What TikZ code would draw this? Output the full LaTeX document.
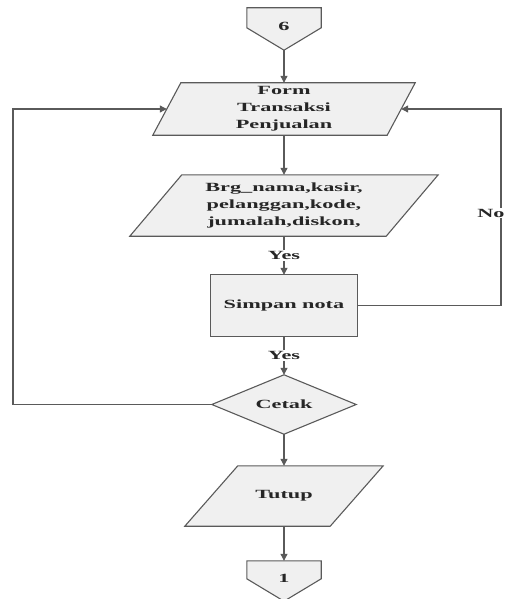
\documentclass[tikz,border=0pt]{standalone}
\usepackage{fontspec}
\setmainfont[FakeStretch=1.78]{Liberation Serif}
\usetikzlibrary{arrows.meta,backgrounds,calc}
\definecolor{ln}{HTML}{5A5A5A}
\definecolor{bx}{HTML}{F0F0F0}
\tikzset{
  conn/.style={draw=ln, line width=1.1pt},
  arr/.style={conn, -{Triangle[length=7pt,width=7pt]}},
  txt/.style={font=\fontsize{12.5}{17}\selectfont\bfseries, text=black!85, align=center, inner sep=0pt},
  shp/.style={draw=ln, line width=1.1pt, fill=bx},
  lbl/.style={font=\fontsize{12.5}{17}\selectfont\bfseries, text=black!85, fill=white, inner sep=1pt},
}
\begin{document}
\begin{tikzpicture}[x=1pt,y=-1pt]
\useasboundingbox (0,0) rectangle (507,599);
% nodes
\node[txt, minimum width=74, minimum height=42] (c6) at (284,29) {\raisebox{6pt}{6}};
\node[txt, minimum width=234, minimum height=52] (form) at (284,109) {Form\\Transaksi\\Penjualan};
\node[txt, minimum width=256, minimum height=61] (inp) at (284,205.5) {Brg\_nama,kasir,\\pelanggan,kode,\\jumalah,diskon,};
\node[txt, minimum width=146, minimum height=61] (simpan) at (284,305.5) {Simpan nota};
\node[txt, minimum width=144, minimum height=59] (cetak) at (284,404.5) {Cetak};
\node[txt, minimum width=145, minimum height=60] (tutup) at (284,496) {Tutup};
\node[txt, minimum width=74, minimum height=40] (c1) at (284,581) {\raisebox{6pt}{1}};
% shapes
\begin{scope}[on background layer]
\path[shp] (c6.north west) -- (c6.north east) -- ($(c6.north east)+(0,20)$) -- (c6.south) -- ($(c6.north west)+(0,20)$) -- cycle;
\path[shp] ($(form.north west)+(14,0)$) -- ($(form.north east)+(14,0)$) -- ($(form.south east)+(-14,0)$) -- ($(form.south west)+(-14,0)$) -- cycle;
\path[shp] ($(inp.north west)+(26,0)$) -- ($(inp.north east)+(26,0)$) -- ($(inp.south east)+(-26,0)$) -- ($(inp.south west)+(-26,0)$) -- cycle;
\path[shp] (simpan.north west) rectangle (simpan.south east);
\path[shp] (cetak.north) -- (cetak.east) -- (cetak.south) -- (cetak.west) -- cycle;
\path[shp] ($(tutup.north west)+(26.5,0)$) -- ($(tutup.north east)+(26.5,0)$) -- ($(tutup.south east)+(-26.5,0)$) -- ($(tutup.south west)+(-26.5,0)$) -- cycle;
\path[shp] (c1.north west) -- (c1.north east) -- ($(c1.north east)+(0,18)$) -- (c1.south) -- ($(c1.north west)+(0,18)$) -- cycle;
\end{scope}
% connectors
\coordinate (L) at (13,0);
\coordinate (R) at (501,0);
\draw[arr] (c6.south) -- (form.north);
\draw[arr] (form.south) -- (inp.north);
\draw[arr] (inp.south) -- node[lbl]{Yes} (simpan.north);
\draw[arr] (simpan.south) -- node[lbl]{Yes} (cetak.north);
\draw[arr] (cetak.south) -- (tutup.north);
\draw[arr] (tutup.south) -- (c1.north);
\draw[arr] (cetak.west) -- (L |- cetak.west) -- (L |- form.west) -- (form.west);
\draw[arr] (simpan.east) -- (R |- simpan.east) -- node[lbl, pos=0.47, anchor=east, xshift=5pt]{No} (R |- form.east) -- (form.east);
\end{tikzpicture}
\end{document}
